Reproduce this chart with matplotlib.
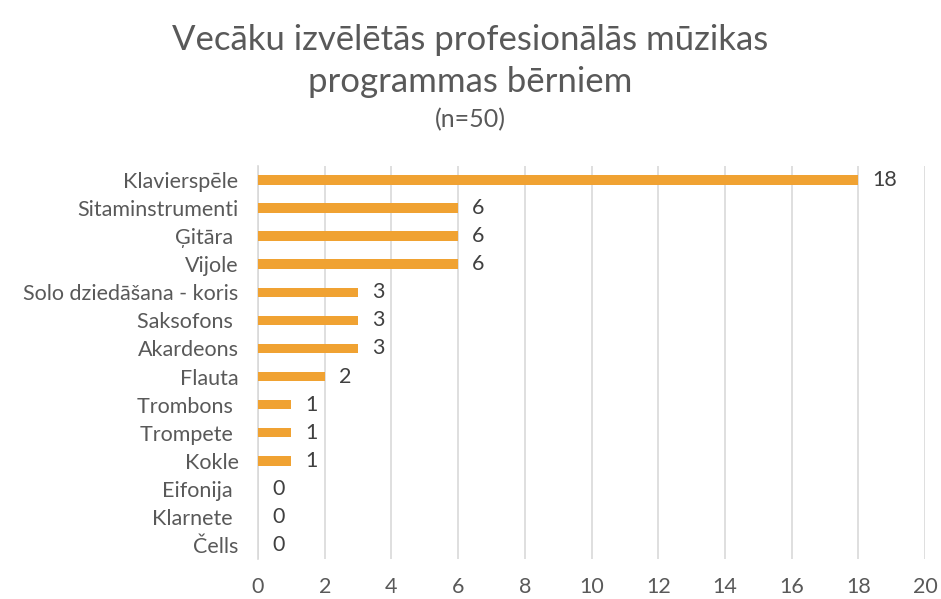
import matplotlib.pyplot as plt

plt.rcParams['font.family'] = ['Lato', 'DejaVu Sans']

kategorijas = ['Klavierspēle', 'Sitaminstrumenti', 'Ģitāra ', 'Vijole',
               'Solo dziedāšana - koris', 'Saksofons ', 'Akardeons', 'Flauta',
               'Trombons ', 'Trompete ', 'Kokle', 'Eifonija ', 'Klarnete ', 'Čells']
skaits = [18, 6, 6, 6, 3, 3, 3, 2, 1, 1, 1, 0, 0, 0]

teksts = '#595959'
krasa = '#F0A232'

fig = plt.figure(figsize=(9.41, 5.99), dpi=100)
ax = fig.add_axes([0.2742, 0.0668, 0.7088, 0.6561])

y = list(range(len(kategorijas)))
ax.barh(y, skaits, height=0.34, color=krasa, zorder=3)
for yi, v in zip(y, skaits):
    ax.annotate(str(v), (v, yi), xytext=(10, 0), textcoords='offset points',
                va='center', ha='left', fontsize=15.5, color='#404040')

ax.set_ylim(len(kategorijas) - 0.5, -0.5)
ax.set_xlim(0, 20)
ax.set_xticks(range(0, 21, 2))
ax.set_yticks(y)
ax.set_yticklabels(kategorijas)
ax.tick_params(axis='both', length=0, labelsize=15.5, labelcolor=teksts)
ax.tick_params(axis='x', pad=13)
ax.tick_params(axis='y', pad=14)
ax.grid(axis='x', color='#D9D9D9', linewidth=1.2, zorder=0)
for s in ['top', 'right', 'bottom']:
    ax.spines[s].set_visible(False)
ax.spines['left'].set_color('#D9D9D9')
ax.spines['left'].set_linewidth(1.2)

fig.text(0.5, 0.934, 'Vecāku izvēlētās profesionālās mūzikas', ha='center', va='center',
         fontsize=25, color=teksts)
fig.text(0.5, 0.863, 'programmas bērniem', ha='center', va='center',
         fontsize=25, color=teksts)
fig.text(0.5, 0.8, '(n=50)', ha='center', va='center', fontsize=18, color=teksts)

fig.savefig('out.png', dpi=100)
